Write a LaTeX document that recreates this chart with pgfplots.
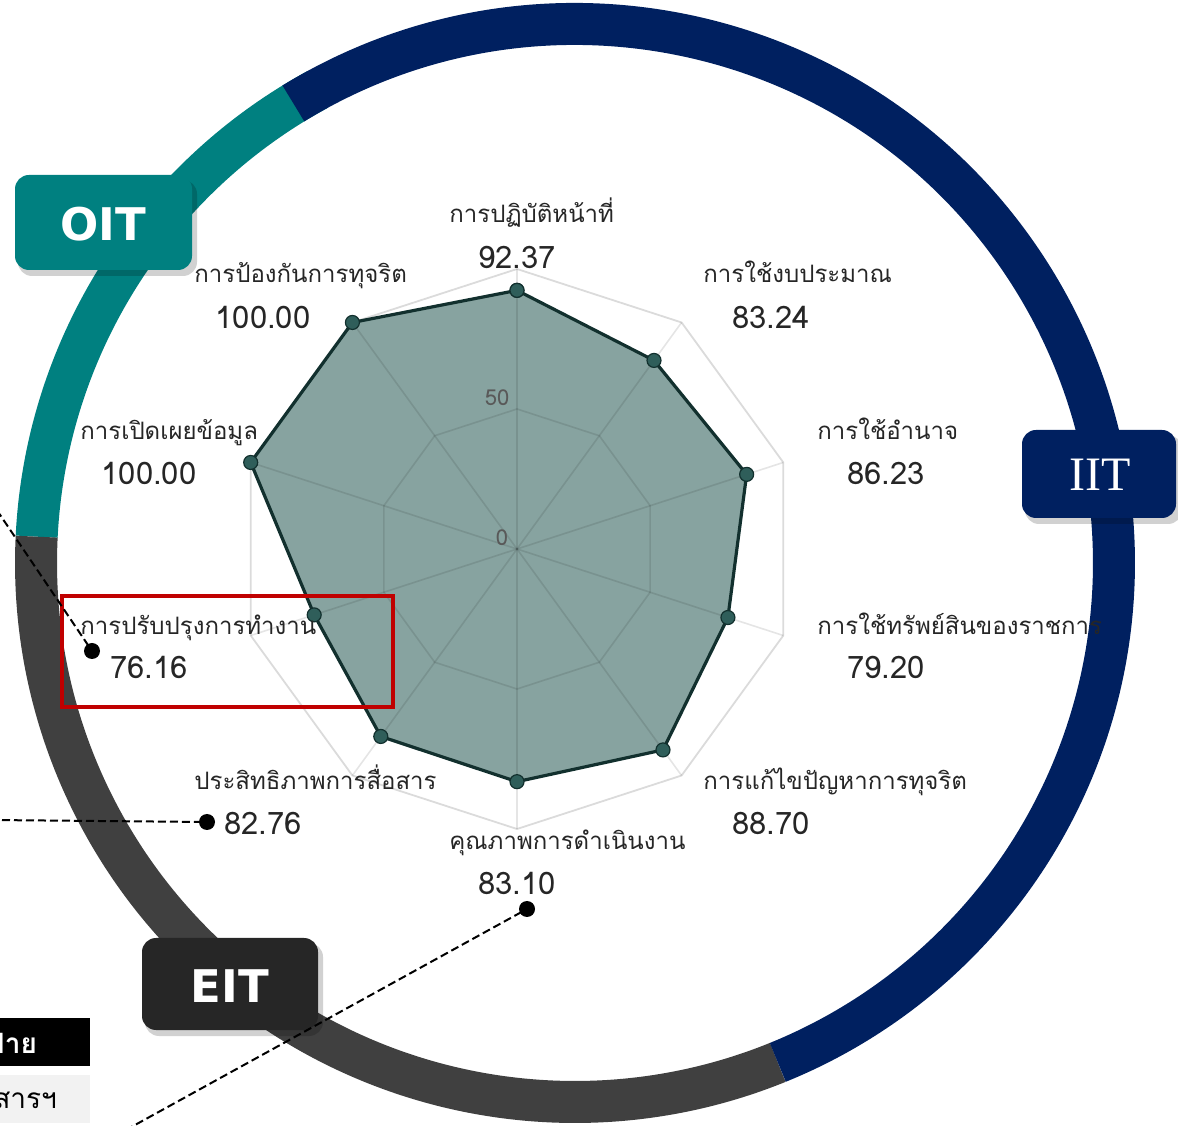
\documentclass[border=0pt]{standalone}
\usepackage{pgfplots}
\pgfplotsset{compat=1.18}
\usepackage{fontspec}
\setmainfont{Liberation Sans}
\newfontfamily\thaifont[Script=Thai]{Loma}
\newfontfamily\boxfont{DejaVu Sans}
\newfontfamily\seriffont{Liberation Serif}
\definecolor{navy}{HTML}{002060}
\definecolor{tealc}{HTML}{008080}
\definecolor{ringgray}{HTML}{404040}
\definecolor{eitbox}{HTML}{262626}
\definecolor{radarfill}{HTML}{87A3A0}
\definecolor{radarline}{HTML}{12302E}
\definecolor{markerc}{HTML}{2F5E5A}
\definecolor{redbox}{HTML}{C00000}
\definecolor{labc}{HTML}{262626}
\definecolor{tabgray}{HTML}{F2F2F2}
\begin{document}
\begin{tikzpicture}
\useasboundingbox (0,0) rectangle (589pt,562.5pt);
\clip (0,0) rectangle (589pt,562.5pt);
% ---- outer ring (centre pixel 575,563)
\begin{scope}[shift={(287.5pt,281pt)}]
\draw[tealc, line width=21pt] (118.5:269.5pt) arc[start angle=118.5, end angle=177.2, radius=269.5pt];
\draw[ringgray, line width=21pt] (177.2:269.5pt) arc[start angle=177.2, end angle=292.1, radius=269.5pt];
\draw[navy, line width=21pt] (121.5:269.5pt) arc[start angle=121.5, end angle=-67.9, radius=269.5pt];
\end{scope}
% ---- radar
\begin{axis}[at={(258.5pt,288pt)}, anchor=center, x=1.4pt, y=1.4pt,
  xmin=-110, xmax=110, ymin=-110, ymax=110, hide axis, clip=false]
\addplot[fill=radarfill, draw=none, data cs=polar] coordinates {
 (90,92.37) (54,83.24) (18,86.23) (-18,79.20) (-54,88.70)
 (-90,83.10) (-126,82.76) (-162,76.16) (162,100) (126,100)} --cycle;
\addplot[draw=black, draw opacity=0.14, line width=0.9pt, data cs=polar] coordinates {
 (90,100) (54,100) (18,100) (-18,100) (-54,100) (-90,100) (-126,100) (-162,100) (162,100) (126,100)} --cycle;
\addplot[draw=black, draw opacity=0.10, line width=0.8pt, data cs=polar] coordinates {
 (90,50) (54,50) (18,50) (-18,50) (-54,50) (-90,50) (-126,50) (-162,50) (162,50) (126,50)} --cycle;
\pgfplotsinvokeforeach{90,54,18,-18,-54,-90,-126,-162,162,126}{
 \addplot[draw=black, draw opacity=0.10, line width=0.8pt, data cs=polar] coordinates {(#1,0) (#1,100)};
}
\addplot[draw=radarline, line width=1.6pt, mark=*, mark size=3.5pt,
  mark options={fill=markerc, draw=radarline, line width=0.6pt}, data cs=polar] coordinates {
 (90,92.37) (54,83.24) (18,86.23) (-18,79.20) (-54,88.70)
 (-90,83.10) (-126,82.76) (-162,76.16) (162,100) (126,100) (90,92.37)};
\end{axis}
% ---- decorations in pixel coordinates
\begin{scope}[shift={(0pt,562.5pt)}, x=0.5pt, y=-0.5pt]
% OIT box
\fill[black, opacity=0.18, rounded corners=7pt] (18,180) rectangle (197,276);
\fill[tealc, rounded corners=7pt] (15,175) rectangle (192,270);
\node[text=white, font=\boxfont\bfseries\fontsize{22.5}{24}\selectfont] at (103,224) {OIT};
% IIT box
\fill[black, opacity=0.18, rounded corners=7pt] (1025,435) rectangle (1182,524);
\fill[navy, rounded corners=7pt] (1022,430) rectangle (1176,518);
\node[text=white, font=\seriffont\fontsize{24}{26}\selectfont] at (1100,475) {IIT};
% EIT box
\fill[black, opacity=0.18, rounded corners=7pt] (145,943) rectangle (323,1036);
\fill[eitbox, rounded corners=7pt] (142,938) rectangle (318,1030);
\node[text=white, font=\boxfont\bfseries\fontsize{22.5}{24}\selectfont] at (230,986) {EIT};
% axis value labels
\node[text=black!65, font=\thaifont\fontsize{11}{12}\selectfont] at (497,398) {50};
\node[text=black!65, font=\thaifont\fontsize{11}{12}\selectfont] at (502,538) {0};
% category labels
\begin{scope}[every node/.style={text=labc, inner sep=0pt}]
\newcommand\lab[3]{\node[anchor=base west, font=\thaifont\fontsize{12}{14}\selectfont] at (#1,#2+8) {#3};}
\newcommand\val[3]{\node[anchor=base, font=\thaifont\fontsize{15.5}{18}\selectfont] at (#1,#2+12) {#3};}
\lab{449}{215}{การปฏิบัติหน้าที่} \val{517}{257}{92.37}
\lab{703}{275}{การใช้งบประมาณ} \val{771}{317}{83.24}
\lab{817}{432}{การใช้อำนาจ} \val{886}{473}{86.23}
\lab{817}{627}{การใช้ทรัพย์สินของราชการ} \val{886}{667}{79.20}
\lab{703}{782}{การแก้ไขปัญหาการทุจริต} \val{771}{823}{88.70}
\lab{449}{842}{คุณภาพการดำเนินงาน} \val{517}{883}{83.10}
\lab{194}{782}{ประสิทธิภาพการสื่อสาร} \val{263}{823}{82.76}
\lab{80}{627}{การปรับปรุงการทำงาน} \val{149}{667}{76.16}
\lab{80}{432}{การเปิดเผยข้อมูล} \val{149}{473}{100.00}
\lab{194}{275}{การป้องกันการทุจริต} \val{263}{317}{100.00}
\end{scope}
% red highlight
\draw[redbox, line width=2pt] (62,596) rectangle (393,707);
% dashed leaders
\draw[black, line width=1pt, dash pattern=on 4pt off 2pt] (-10,500) -- (92,651);
\fill[black] (92,651) circle[radius=8];
\draw[black, line width=1pt, dash pattern=on 4pt off 2pt] (-10,820) -- (207,822);
\fill[black] (207,822) circle[radius=8];
\draw[black, line width=1pt, dash pattern=on 4pt off 2pt] (115,1136) -- (527,909);
\fill[black] (527,909) circle[radius=8];
% partial table bottom left
\fill[black] (-5,1018) rectangle (90,1066);
\node[anchor=east, text=white, font=\thaifont\bfseries\fontsize{14}{16}\selectfont] at (44,1043) {ฝ่าย};
\fill[tabgray] (-5,1075) rectangle (90,1123);
\node[anchor=east, text=black, font=\thaifont\fontsize{14}{16}\selectfont] at (64,1100) {งานสารฯ};
\end{scope}
\end{tikzpicture}
\end{document}
